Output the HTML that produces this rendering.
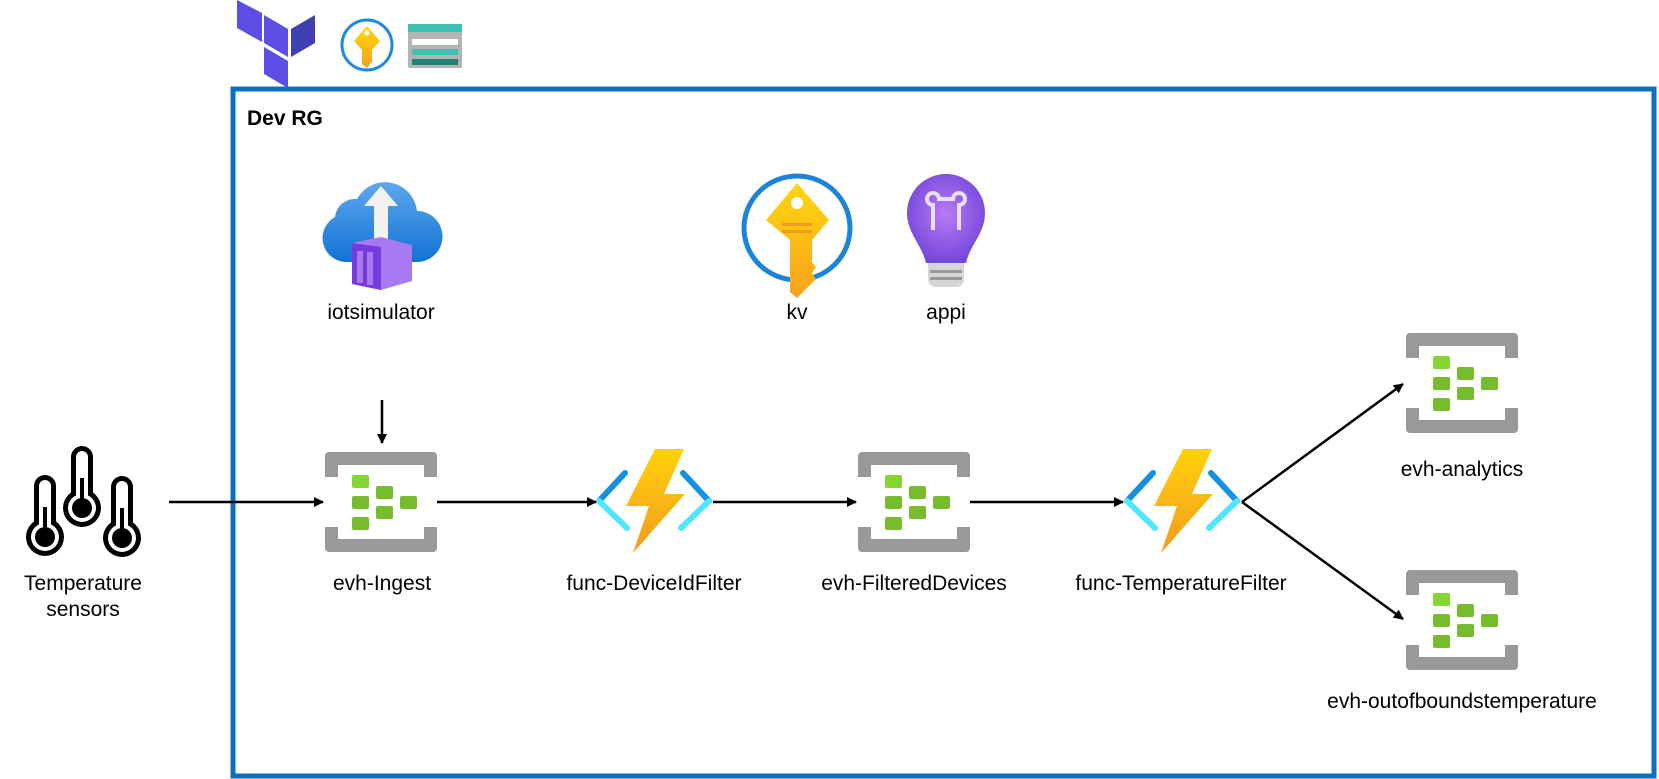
<!DOCTYPE html>
<html><head><meta charset="utf-8"><style>
html,body{margin:0;padding:0;background:#fff;}
svg{display:block;}
text{font-family:"Liberation Sans",sans-serif;font-size:21px;fill:#000;}
</style></head><body>
<svg width="1659" height="779" viewBox="0 0 1659 779" xmlns="http://www.w3.org/2000/svg">
<defs>
<linearGradient id="bolt" x1="0" y1="0" x2="0" y2="1"><stop offset="0" stop-color="#fed20a"/><stop offset="1" stop-color="#f59b1e"/></linearGradient>
<linearGradient id="cloud" x1="0" y1="0" x2="0" y2="1"><stop offset="0" stop-color="#5ea7ee"/><stop offset="1" stop-color="#1173d4"/></linearGradient>
<linearGradient id="key" x1="0" y1="0" x2="0" y2="1"><stop offset="0" stop-color="#ffd70f"/><stop offset="1" stop-color="#f7a21c"/></linearGradient>
<radialGradient id="bulb" cx="0.5" cy="0.45" r="0.6"><stop offset="0" stop-color="#b77af4"/><stop offset="1" stop-color="#6f44d8"/></radialGradient>
<marker id="ah" markerWidth="10" markerHeight="10" refX="9" refY="5" orient="auto" markerUnits="userSpaceOnUse"><path d="M0,0 L10,5 L0,10 z" fill="#000"/></marker>
<g id="evh">
  <path d="M4,0 H108 a4,4 0 0 1 4,4 V25 H99 V13 H13 V25 H0 V4 a4,4 0 0 1 4,-4z" fill="#999"/>
  <path d="M0,75 H13 V87 H99 V75 H112 V96 a4,4 0 0 1 -4,4 H4 a4,4 0 0 1 -4,-4z" fill="#999"/>
  <rect x="27" y="23" width="17" height="13" rx="2" fill="#86d633"/>
  <rect x="27" y="44" width="17" height="13" rx="2" fill="#76bc2d"/>
  <rect x="27" y="65" width="17" height="13" rx="2" fill="#76bc2d"/>
  <rect x="51" y="34" width="17" height="13" rx="2" fill="#76bc2d"/>
  <rect x="51" y="54" width="17" height="13" rx="2" fill="#76bc2d"/>
  <rect x="75" y="44" width="17" height="13" rx="2" fill="#76bc2d"/>
</g>
<g id="func">
  <path d="M30,25 L4,53" stroke="#1490df" stroke-width="6" stroke-linecap="round"/>
  <path d="M4,53 L32,80" stroke="#50e6ff" stroke-width="6" stroke-linecap="round"/>
  <path d="M88,25 L114,53" stroke="#1490df" stroke-width="6" stroke-linecap="round"/>
  <path d="M114,53 L86,80" stroke="#50e6ff" stroke-width="6" stroke-linecap="round"/>
  <polygon points="60,1 89,1 69,46 90,46 38,105 54,58 31,58" fill="url(#bolt)"/>
</g>
<g id="therm">
  <rect x="-11" y="0" width="22" height="70" rx="11" fill="#000"/>
  <circle cx="0" cy="62" r="19" fill="#000"/>
  <rect x="-6" y="5" width="12" height="65" rx="6" fill="#fff"/>
  <circle cx="0" cy="62" r="14" fill="#fff"/>
  <circle cx="0" cy="62" r="10" fill="#000"/>
  <rect x="-2" y="32" width="4" height="30" fill="#000"/>
</g>
</defs>

<!-- terraform -->
<polygon points="237,0 262,13 262,42 237,28" fill="#5c4ee5"/>
<polygon points="264,15 288,29 288,57 264,43" fill="#5c4ee5"/>
<polygon points="291,29 315,15 315,43 291,57" fill="#4040b2"/>
<polygon points="264,47 288,61 288,88 264,74" fill="#5c4ee5"/>
<!-- small kv -->
<circle cx="367" cy="45" r="25" fill="#fff" stroke="#1e88e5" stroke-width="3"/>
<path d="M367,26 L380,41 L372,50 V62 L367,68 L362,64 V50 L354,41z" fill="url(#key)"/>
<circle cx="367" cy="33" r="2.5" fill="#fff"/>
<!-- storage -->
<rect x="408" y="24" width="54" height="44" rx="2" fill="#b3b3b3"/>
<rect x="408" y="24" width="54" height="8" fill="#3bc1b0"/>
<rect x="412" y="39" width="46" height="6" fill="#fff"/>
<rect x="412" y="49" width="46" height="6" fill="#3bc1b0"/>
<rect x="412" y="59" width="46" height="6" fill="#258277"/>

<!-- RG box -->
<rect x="233" y="89" width="1421" height="687" fill="none" stroke="#0c6fc0" stroke-width="5"/>
<text x="247" y="125" style="font-weight:bold">Dev RG</text>

<!-- iotsimulator -->
<path d="M345,262 a24,24 0 0 1 -10,-45 a20,20 0 0 1 22,-18 a32,32 0 0 1 60,12 a25,25 0 0 1 0,51z" fill="url(#cloud)"/>
<polygon points="381,186 398,206 388,206 388,245 374,245 374,206 364,206" fill="#f2f2f2"/>
<polygon points="352,243 381,237 412,245 412,281 381,290 352,284" fill="#a77af4"/>
<polygon points="352,243 381,247 381,290 352,284" fill="#773adc"/>
<rect x="357" y="251" width="6" height="32" fill="#a77af4"/>
<rect x="367" y="252" width="6" height="33" fill="#a77af4"/>
<text x="381" y="319" text-anchor="middle">iotsimulator</text>

<!-- kv -->
<ellipse cx="797" cy="228" rx="53" ry="52" fill="#fff" stroke="#1c84d8" stroke-width="5"/>
<path d="M797,183 L829,220 L812,240 V262 L816,267 L812,273 L816,279 L797,298 L790,292 V240 L766,220z" fill="url(#key)"/>
<circle cx="797" cy="203" r="6" fill="#fff"/>
<rect x="782" y="223" width="30" height="3" fill="#f29c1f"/>
<rect x="782" y="230" width="30" height="3" fill="#f29c1f"/>
<text x="797" y="319" text-anchor="middle">kv</text>

<!-- appi -->
<path d="M946,174 a39,39 0 0 1 39,39 c0,20 -15,32 -19,50 h-40 c-4,-18 -19,-30 -19,-50 a39,39 0 0 1 39,-39z" fill="url(#bulb)"/>
<path d="M933,230 V205 a6,6 0 1 1 6,-6 h14 a6,6 0 1 1 6,6 V230" fill="none" stroke="#e8e0f8" stroke-width="4"/>
<path d="M928,263 h36 v16 a8,8 0 0 1 -8,8 h-20 a8,8 0 0 1 -8,-8z" fill="#d6d6d6"/>
<rect x="930" y="270" width="32" height="3" fill="#999"/>
<rect x="930" y="277" width="32" height="3" fill="#999"/>
<text x="946" y="319" text-anchor="middle">appi</text>

<!-- thermometers -->
<use href="#therm" x="45" y="475"/>
<use href="#therm" x="82" y="446"/>
<use href="#therm" x="122" y="476"/>
<text x="83" y="590" text-anchor="middle">Temperature</text>
<text x="83" y="616" text-anchor="middle">sensors</text>

<!-- nodes -->
<use href="#evh" x="325" y="452"/>
<text x="382" y="590" text-anchor="middle">evh-Ingest</text>
<use href="#func" x="595" y="448"/>
<text x="654" y="590" text-anchor="middle">func-DeviceIdFilter</text>
<use href="#evh" x="858" y="452"/>
<text x="914" y="590" text-anchor="middle">evh-FilteredDevices</text>
<use href="#func" x="1123" y="448"/>
<text x="1181" y="590" text-anchor="middle">func-TemperatureFilter</text>
<use href="#evh" x="1406" y="333"/>
<text x="1462" y="476" text-anchor="middle">evh-analytics</text>
<use href="#evh" x="1406" y="570"/>
<text x="1462" y="708" text-anchor="middle">evh-outofboundstemperature</text>

<!-- connectors -->
<g stroke="#000" stroke-width="2.5" fill="none" marker-end="url(#ah)">
<line x1="382" y1="400" x2="382" y2="443"/>
<line x1="169" y1="502" x2="323" y2="502"/>
<line x1="437" y1="502" x2="596" y2="502"/>
<line x1="713" y1="502" x2="856" y2="502"/>
<line x1="970" y1="502" x2="1123" y2="502"/>
<line x1="1242" y1="502" x2="1403" y2="384"/>
<line x1="1242" y1="502" x2="1403" y2="619"/>
</g>
</svg>
</body></html>
